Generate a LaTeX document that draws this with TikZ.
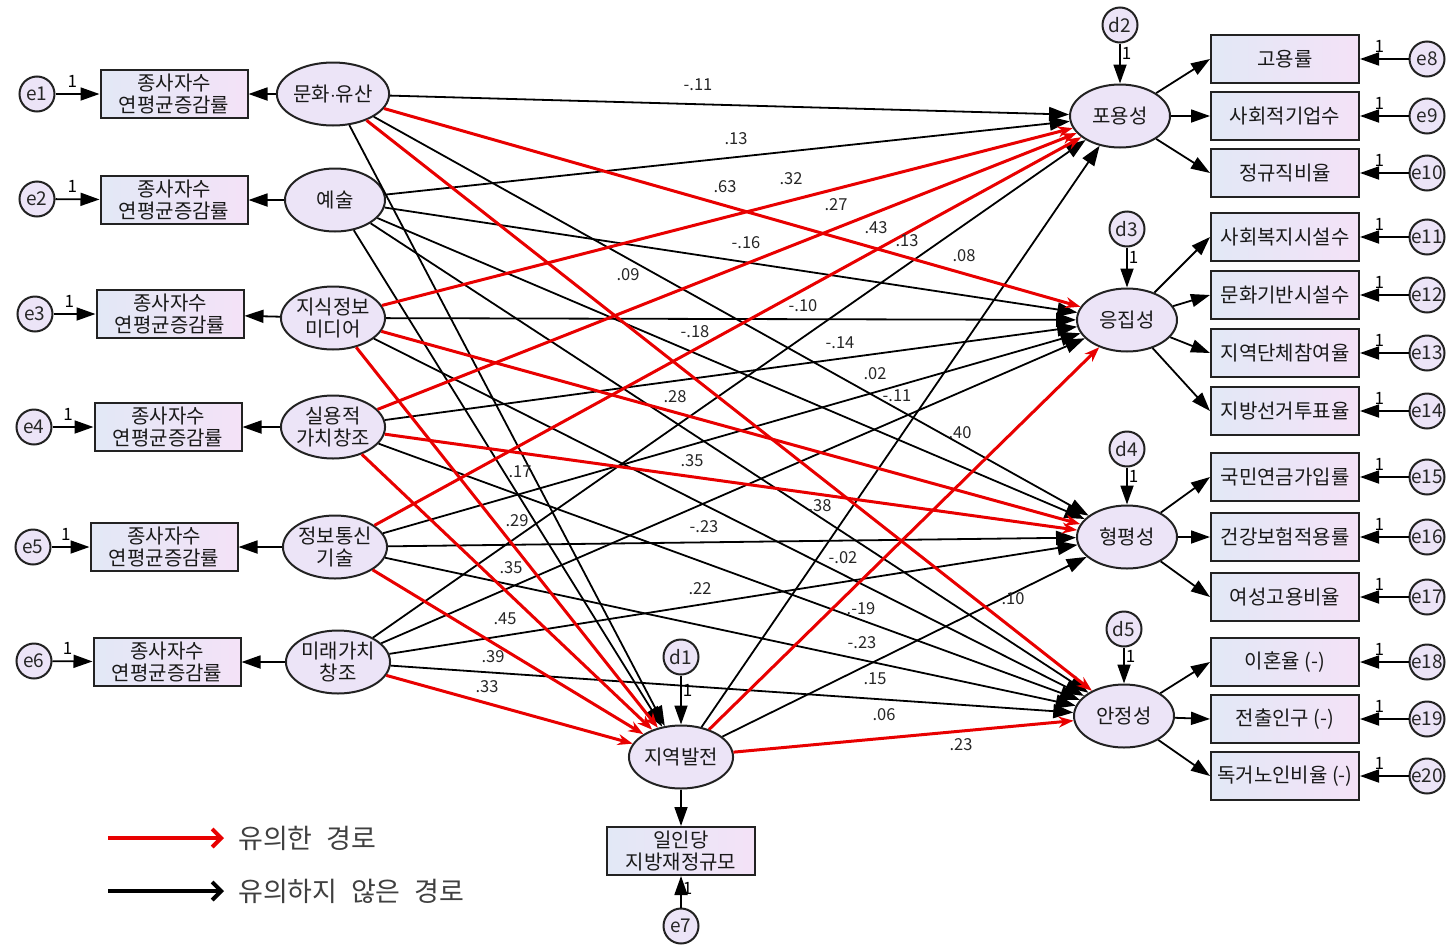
\documentclass[tikz,border=0pt]{standalone}
\usepackage{fontspec}
\setmainfont{Noto Sans CJK KR}
\usetikzlibrary{arrows.meta,shapes.geometric}

\definecolor{sigred}{RGB}{232,0,0}
\definecolor{obsleft}{RGB}{226,232,246}
\definecolor{obsright}{RGB}{244,226,247}
\definecolor{latfill}{RGB}{236,228,247}
\definecolor{rim}{RGB}{34,34,34}

\newcommand{\obsfont}{\fontsize{20}{21.5}\selectfont}
\newcommand{\epsfont}{\fontsize{19}{20}\selectfont}
\newcommand{\coeffont}{\fontsize{16.5}{17}\selectfont}
\newcommand{\fixfont}{\fontsize{17}{18}\selectfont}
\newcommand{\keyfont}{\fontsize{27}{29}\selectfont\spaceskip=0.5em\relax}

\tikzset{
  obs/.style={rectangle,draw=rim,line width=2pt,minimum width=147pt,minimum height=48pt,
    inner sep=0pt,left color=obsleft,right color=obsright,align=center,
    text=black!90,font=\obsfont},
  lat/.style={ellipse,draw=rim,line width=2pt,minimum width=100pt,minimum height=63pt,
    inner sep=0pt,fill=latfill,align=center,text=black!90,font=\obsfont},
  err/.style={circle,draw=rim,line width=2pt,minimum size=35pt,inner sep=0pt,
    fill=latfill,text=black!85,font=\epsfont},
  coef/.style={font=\coeffont,text=black!85,inner sep=1pt},
  fix/.style={font=\fixfont,inner sep=1pt},
  load/.style={line width=1.8pt,-{Triangle[length=19pt,width=13pt]}},
  ns/.style={black,line width=1.8pt,-{Triangle[length=20pt,width=14pt]}},
  sig/.style={sigred,line width=3pt,-{Stealth[length=15pt,width=11pt]}},
  keyarrow/.style={line width=4pt,-{Straight Barb[length=9pt,width=18pt]}},
}

\begin{document}
\begin{tikzpicture}[x=1pt,y=-1pt]
\useasboundingbox (0,0) rectangle (1448,948);

% exogenous factors, each with one indicator
\foreach \n/\ex/\ey/\bx/\by/\fx/\fy/\txt in {
    1/37/94/174/94/333/94/{문화$\cdot$유산},
    2/37/199/174/200/335/200/{예술},
    3/35/314/170/314/333/318/{지식정보\\미디어},
    4/34/427/168/427/333/427/{실용적\\가치창조},
    5/33/547/164/547/335/547/{정보통신\\기술},
    6/34/661/167/662/338/662/{미래가치\\창조}}{
  \node[err] (e\n) at (\ex,\ey) {e\n};
  \node[obs] (x\n) at (\bx,\by) {종사자수\\연평균증감률};
  \node[lat] (f\n) at (\fx,\fy) {\txt};
  \draw[load] (e\n) -- node[fix,pos=0.38,above=5pt] {1} (x\n);
  \draw[load] (f\n) -- (x\n);
}

% mediator
\node[lat] (dev) at (681,757) {지역발전};
\node[err] (d1) at (681,657) {d1};
\node[obs,minimum width=148pt] (fin) at (681,851) {일인당\\지방재정규모};
\node[err] (e7) at (681,926) {e7};
\draw[load] (d1) -- node[fix,pos=0.3,right] {1} (dev);
\draw[load] (dev) -- (fin);
\draw[load] (e7) -- node[fix,pos=0.6,right] {1} (fin);

% outcome factors
\node[lat] (incl) at (1120,116) {포용성};
\node[lat] (cohe) at (1127,320) {응집성};
\node[lat] (equi) at (1127,537) {형평성};
\node[lat] (stab) at (1124,716) {안정성};
\node[err] (d2) at (1120,25) {d2};
\node[err] (d3) at (1127,229) {d3};
\node[err] (d4) at (1127,449) {d4};
\node[err] (d5) at (1124,629) {d5};
\foreach \d/\t in {2/incl,3/cohe,4/equi,5/stab}
  \draw[load] (d\d) -- node[fix,pos=0.25,right] {1} (\t);

\foreach \k/\y/\txt/\src in {
    8/59/고용률/incl, 9/116/사회적기업수/incl, 10/173/정규직비율/incl,
    11/237/사회복지시설수/cohe, 12/295/문화기반시설수/cohe,
    13/353/지역단체참여율/cohe, 14/411/지방선거투표율/cohe,
    15/477/국민연금가입률/equi, 16/537/건강보험적용률/equi, 17/597/여성고용비율/equi,
    18/662/이혼율 (-)/stab, 19/719/전출인구 (-)/stab, 20/776/독거노인비율 (-)/stab}{
  \node[obs,minimum width=148pt] (y\k) at (1285,\y) {\txt};
  \node[err] (e\k) at (1427,\y) {e\k};
  \draw[load] (\src) -- (y\k.west);
  \draw[load] (e\k) -- node[fix,pos=0.6,above=5pt] {1} (y\k);
}

% structural paths
\foreach \s/\t in {f1/incl,f1/equi,f1/dev,f2/incl,f2/cohe,f2/equi,f2/stab,f2/dev,
    f3/cohe,f3/stab,f4/cohe,f4/stab,f5/cohe,f5/equi,f5/stab,
    f6/incl,f6/cohe,f6/equi,f6/stab,dev/incl,dev/equi}
  \draw[ns] (\s) -- (\t);
\foreach \s/\t in {f1/cohe,f1/stab,f3/incl,f3/equi,f3/dev,f4/incl,f4/equi,f4/dev,
    f5/incl,f5/dev,f6/dev,dev/cohe,dev/stab}
  \draw[sig] (\s) -- (\t);

\foreach \v/\x/\y [count=\i] in {
    -.11/698/85, .13/736/139, .63/725/187, .32/791/179, .27/836/205,
    -.16/746/243, .43/876/228, .13/907/241, .08/964/256, .09/628/275,
    -.10/803/306, -.18/695/332, -.14/840/343, .02/875/374, -.11/897/396,
    .40/960/433, .28/675/397, .35/692/461, .17/520/472, .38/820/506,
    .29/517/521, -.23/704/527, -.02/843/558, .35/511/568, .22/700/589,
    .10/1013/599, .-19/861/609, .45/505/619, -.23/862/643, .39/493/657,
    .15/875/679, .33/487/687, .06/884/715, .23/961/745}
  \node[coef] (c\i) at (\x,\y) {\v};

% legend
\coordinate (k1a) at (108,838);
\coordinate (k1b) at (224,838);
\coordinate (k2a) at (108,891);
\coordinate (k2b) at (224,891);
\draw[keyarrow,sigred] (k1a) -- (k1b);
\draw[keyarrow,black] (k2a) -- (k2b);
\node[anchor=west,font=\keyfont,text=black!75,inner sep=0pt] (k1) at (238,838) {유의한 경로};
\node[anchor=west,font=\keyfont,text=black!75,inner sep=0pt] (k2) at (238,891) {유의하지 않은 경로};
\end{tikzpicture}
\end{document}
